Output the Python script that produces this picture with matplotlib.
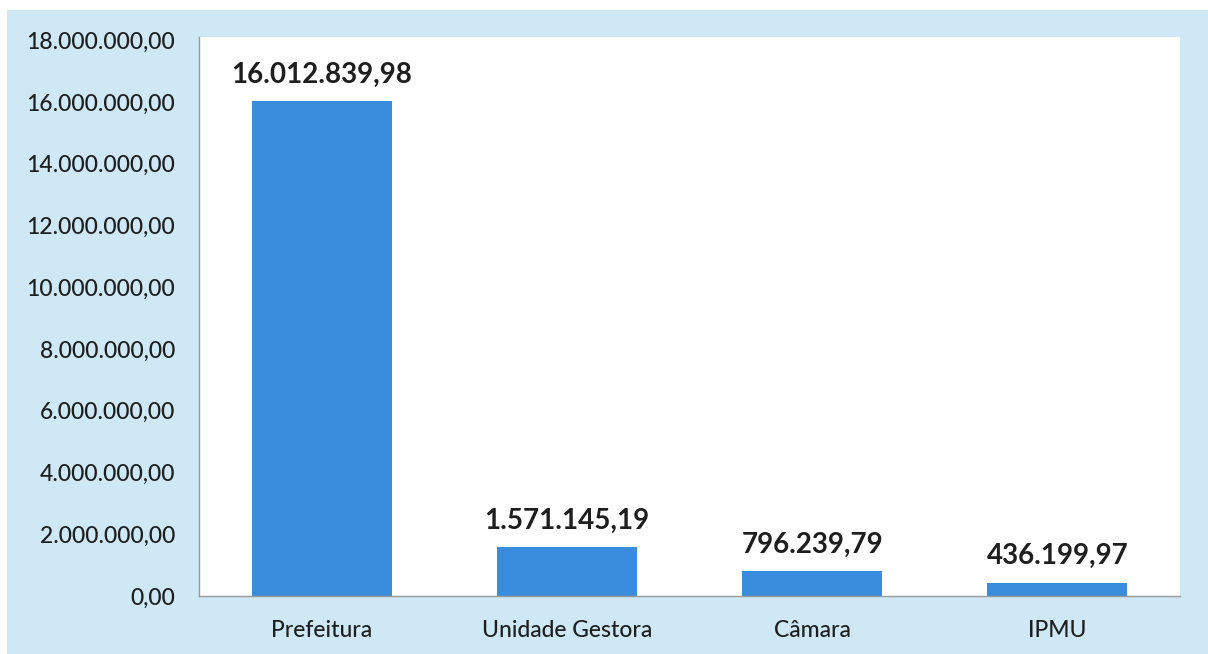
import matplotlib.pyplot as plt
from matplotlib.patches import Rectangle
from matplotlib.ticker import FuncFormatter

# data
categories = ["Prefeitura", "Unidade Gestora", "Câmara", "IPMU"]
values = [16012839.98, 1571145.19, 796239.79, 436199.97]
yticks = list(range(0, 18000001, 2000000))


def br_fmt(v, pos=None):
    s = f"{v:,.2f}"
    return s.replace(",", "X").replace(".", ",").replace("X", ".")


plt.rcParams['font.family'] = ['Lato', 'DejaVu Sans']

fig = plt.figure(figsize=(12.08, 6.54), dpi=100)
fig.patch.set_facecolor('white')
# scanned light-blue backdrop
fig.patches.append(Rectangle((7 / 1208, 0), 1 - 7 / 1208, 1 - 10 / 654,
                             transform=fig.transFigure, facecolor='#cfe8f6',
                             edgecolor='none', zorder=-5))

ax = fig.add_axes([199 / 1208, 58 / 654, 981 / 1208, (596 - 37) / 654])
ax.set_zorder(2)
ax.set_facecolor('white')
x = range(len(categories))
ax.bar(x, values, width=0.57, color='#3a8ddc', zorder=2)

ax.set_xlim(-0.5, len(categories) - 0.5)
ax.set_ylim(0, 18100000)
ax.set_yticks(yticks)
ax.yaxis.set_major_formatter(FuncFormatter(br_fmt))
ax.set_xticks(list(x))
ax.set_xticklabels(categories)
ax.tick_params(axis='both', length=0, labelsize=16.5, colors='#1e1e1e')
ax.tick_params(axis='y', pad=17)
ax.tick_params(axis='x', pad=17)
for lbl in ax.get_xticklabels() + ax.get_yticklabels():
    lbl.set_fontweight('medium')

for s in ['top', 'right']:
    ax.spines[s].set_visible(False)
for s in ['left', 'bottom']:
    ax.spines[s].set_color('#999999')
    ax.spines[s].set_linewidth(1)

for i, v in enumerate(values):
    ax.annotate(br_fmt(v), (i, v), xytext=(0, 10), textcoords='offset points',
                ha='center', va='bottom', fontsize=20, fontweight='bold',
                color='#1e1e1e')

fig.savefig('out.png', dpi=100)
